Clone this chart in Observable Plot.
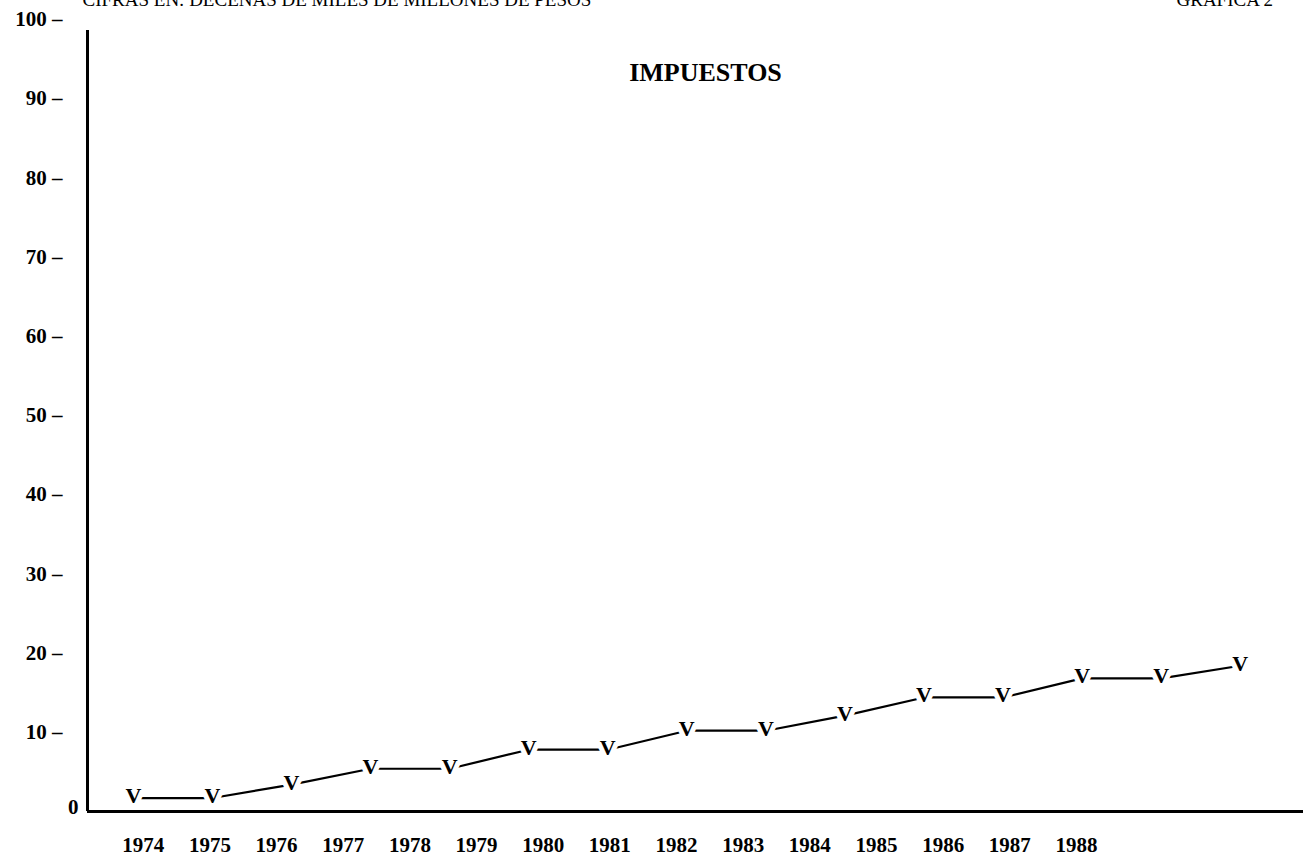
<!DOCTYPE html>
<html><head><meta charset="utf-8">
<script src="https://cdn.jsdelivr.net/npm/d3@7"></script>
<script src="https://cdn.jsdelivr.net/npm/@observablehq/plot@0.6"></script>
<style>body{margin:0;background:#fff;}</style>
</head><body><div id="chart"></div>
<script>
const years = [1974,1975,1976,1977,1978,1979,1980,1981,1982,1983,1984,1985,1986,1987,1988];
const impuestos = [1.7,1.7,3.4,5.4,5.4,7.8,7.8,10.2,10.2,12.1,14.4,14.4,16.8,16.8,18.4];
const yTicks = [10,20,30,40,50,60,70,80,90,100];
const title = "IMPUESTOS";
const unitsNote = "CIFRAS EN: DECENAS DE MILES DE MILLONES DE PESOS";
const figureLabel = "GRAFICA 2";

const data = years.map((year, i) => ({year, value: impuestos[i]}));
const font = "'Liberation Serif', 'DejaVu Serif', serif";
const x0 = 1973.42, x1 = 1988.8;
// in the original, the year labels are spaced more tightly than the plotted points
const labelStart = 1974.126, labelStep = 0.843;
const labelPos = years.map((y, i) => labelStart + labelStep * i);

const chart = Plot.plot({
  width: 1303, height: 858,
  marginLeft: 87, marginRight: 0, marginTop: 19, marginBottom: 47,
  style: {fontFamily: font, background: "#fff", color: "#000"},
  x: {domain: [x0, x1], label: null},
  y: {domain: [0, 100], label: null},
  marks: [
    Plot.axisY({ticks: yTicks, tickSize: 0, tickPadding: 25, tickFormat: d => d + " –", fontSize: 21, fontWeight: "bold", label: null}),
    Plot.axisY({ticks: [0], tickSize: 0, tickPadding: 9, dy: -4, fontSize: 21, fontWeight: "bold", label: null}),
    Plot.axisX({ticks: labelPos, tickSize: 0, tickPadding: 26, fontSize: 21, fontWeight: "bold", label: null,
      tickFormat: d => String(years[Math.round((d - labelStart) / labelStep)])}),
    Plot.ruleY([0], {strokeWidth: 3}),
    Plot.ruleX([x0], {y1: 0, y2: 98.6, strokeWidth: 3}),
    Plot.line(data, {x: "year", y: "value", strokeWidth: 2.2}),
    Plot.text(data, {x: "year", y: "value", text: () => "V", fontSize: 22, fontWeight: "bold",
      fill: "black", stroke: "white", strokeWidth: 10, dy: -2}),
    Plot.text([title], {frameAnchor: "top", dx: 10, dy: 53, lineAnchor: "middle", fontSize: 26, fontWeight: "bold"}),
    Plot.text([unitsNote], {frameAnchor: "top-left", dx: -5, dy: -14, lineAnchor: "bottom", textAnchor: "start", fontSize: 19}),
    Plot.text([figureLabel], {frameAnchor: "top-right", dx: -127, dy: -14, lineAnchor: "bottom", textAnchor: "start", fontSize: 19})
  ]
});
document.getElementById("chart").append(chart);
</script>
</body></html>
